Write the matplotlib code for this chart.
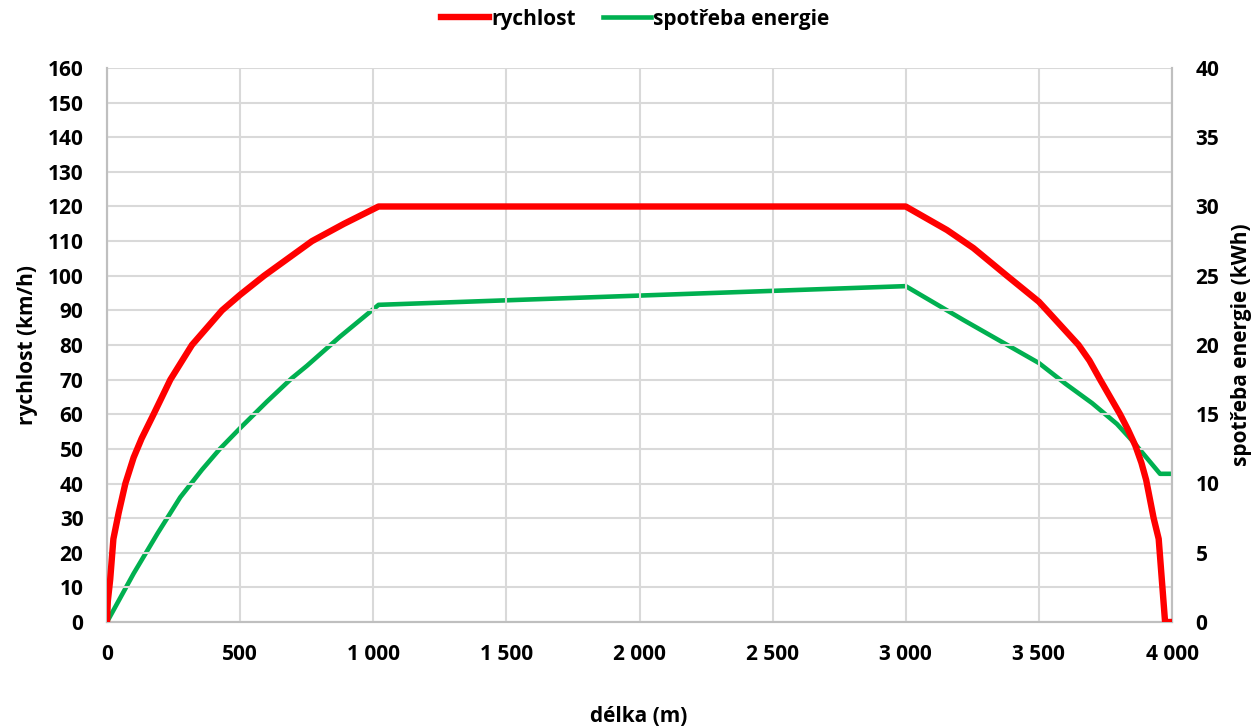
import matplotlib
matplotlib.use("Agg")
import matplotlib.pyplot as plt
from matplotlib.ticker import FuncFormatter, MultipleLocator

# Data
dist_speed = [0, 3, 12, 24, 44, 69, 100, 130, 175, 238, 319, 432, 500, 590, 626, 770, 890, 1020,
              3000, 3155, 3254, 3380, 3500, 3530, 3649, 3690, 3730, 3805, 3835, 3862, 3885, 3903,
              3931, 3950, 3974, 4000]
speed = [0, 6, 12.3, 24, 31.6, 40, 47.5, 53, 60, 70, 80, 90, 94.5, 100, 102, 110, 115, 120,
         120, 113.2, 108, 100, 92.5, 90, 80, 75.5, 70, 60, 55.5, 51, 46, 41,
         30, 24, 0, 0]

dist_energy = [0, 100, 190, 275, 357, 424, 500, 600, 694, 751, 875, 1020,
               3000, 3217, 3354, 3500, 3600, 3700, 3793, 3855, 3955, 4000]
energy = [0, 3.5, 6.4, 9.0, 11.0, 12.5, 14.0, 15.9, 17.6, 18.5, 20.6, 22.9,
          24.25, 21.8, 20.3, 18.7, 17.2, 15.8, 14.3, 13.0, 10.7, 10.7]

series_names = ["rychlost", "spotřeba energie"]
x_label = "délka (m)"
y_label_left = "rychlost (km/h)"
y_label_right = "spotřeba energie (kWh)"

plt.rcParams['font.family'] = ['Open Sans', 'DejaVu Sans']
plt.rcParams['font.weight'] = 'bold'

W, H = 1254, 728
fig = plt.figure(figsize=(W/100, H/100), dpi=100)
ax = fig.add_axes([107/W, 1-622/H, (1172-107)/W, (622-68)/H])
ax2 = ax.twinx()

grid_c = '#d9d9d9'
ax.set_xlim(0, 4000)
ax.set_ylim(0, 160)
ax2.set_ylim(0, 40)
ax.xaxis.set_major_locator(MultipleLocator(500))
ax.yaxis.set_major_locator(MultipleLocator(10))
ax2.yaxis.set_major_locator(MultipleLocator(5))
ax.grid(True, color=grid_c, linewidth=1.5)
ax.set_axisbelow(True)

def thousands(v, pos):
    return f"{int(v):,}".replace(",", " ")
ax.xaxis.set_major_formatter(FuncFormatter(thousands))

l2, = ax2.plot(dist_energy, energy, color='#00b050', linewidth=3.3,
               solid_joinstyle='round', zorder=3)
l1, = ax.plot(dist_speed, speed, color='#ff0000', linewidth=4.6,
              solid_joinstyle='round', zorder=3)
ax.set_zorder(ax2.get_zorder() + 1)
ax.patch.set_visible(False)

for a in (ax, ax2):
    for s in a.spines.values():
        s.set_color('#bfbfbf')
        s.set_linewidth(1.5)
    a.spines['top'].set_visible(False)

fs = 15
ax.tick_params(axis='both', length=0, labelsize=fs, colors='black')
ax.tick_params(axis='y', pad=17)
ax.tick_params(axis='x', pad=16)
ax2.tick_params(axis='y', length=0, labelsize=fs, pad=17, colors='black')
for lab in ax.get_xticklabels() + ax.get_yticklabels() + ax2.get_yticklabels():
    lab.set_fontweight('bold')

fig.text(639/W, 1-716/H, x_label, ha='center', va='center', fontsize=fs, fontweight='bold')
fig.text(28/W, 1-345/H, y_label_left, ha='center', va='center', rotation=90,
         fontsize=fs, fontweight='bold')
fig.text(1242/W, 1-345/H, y_label_right, ha='center', va='center', rotation=90,
         fontsize=fs, fontweight='bold')

fig.legend([l1, l2], series_names, loc='center', bbox_to_anchor=(635/W, 1-19/H),
           ncol=2, frameon=False, handlelength=2.3, handletextpad=0.1,
           columnspacing=1.3, prop={'weight': 'bold', 'size': fs})

fig.savefig('out.png', dpi=100)
